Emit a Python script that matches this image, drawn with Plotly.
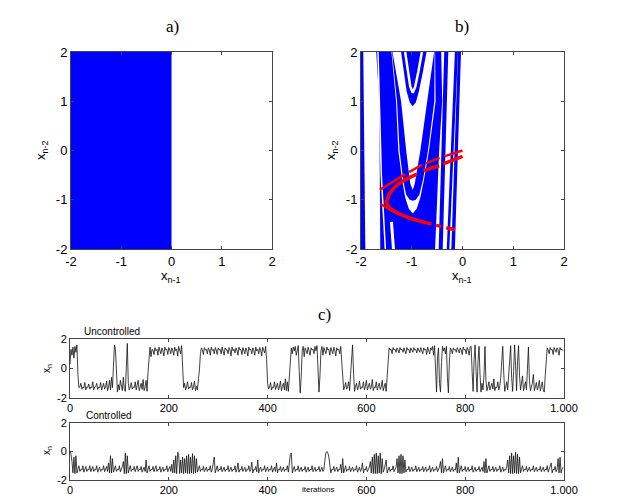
import numpy as np
import plotly.graph_objects as go

BLUE = "#0000ff"
RED = "#ff0000"

# ---- panel a: basin (left half blue)
a_basin_x = [-2, 0, 0, -2]
a_basin_y = [-2, -2, 2, 2]

# ---- panel b: basin pieces (blue / white layers, painted in order)
b_edge_x = [-2, -1.955, -1.915, -2]
b_edge_y = [2, 2, -2, -2]

b_main_x = [-1.70, -0.42, -0.40, -0.46, -0.54, -1.62, -1.64]
b_main_y = [2, 2, 1, 0, -2, -2, 1]

# white U (outer, vertex -1.28)
b_c_x = [-1.40, -1.31, -1.265, -1.19, -1.13, -1.06, -0.98, -0.90, -0.83, -0.76, -0.66, -0.53, -0.54]
b_c_y = [2.0, 1.0, 0.0, -0.6, -0.95, -1.18, -1.28, -1.18, -0.95, -0.6, 0.0, 1.0, 2.0]
# blue U band (vertex -1.02)
b_d_x = [-1.39, -1.29, -1.24, -1.17, -1.11, -1.04, -0.98, -0.92, -0.85, -0.78, -0.68, -0.555, -0.55]
b_d_y = [2.0, 1.0, 0.0, -0.6, -0.9, -1.0, -1.02, -1.0, -0.9, -0.6, 0.0, 1.0, 2.0]
# white U (vertex -0.80)
b_a_x = [-1.38, -1.21, -1.11, -1.03, -0.98, -0.94, -0.83, -0.69, -0.56]
b_a_y = [2.0, 1.0, 0.0, -0.67, -0.80, -0.67, 0.0, 1.0, 2.0]
# blue U (vertex 0.90)
b_b_x = [-1.21, -1.16, -1.10, -1.04, -0.98, -0.92, -0.86, -0.78, -0.71]
b_b_y = [2.0, 1.6, 1.2, 0.98, 0.90, 0.98, 1.2, 1.6, 2.0]
# thin white lines
b_w1_x = [-1.13, -1.08, -1.03, -0.98, -0.93, -0.87, -0.80]
b_w1_y = [2.0, 1.6, 1.3, 1.17, 1.3, 1.6, 2.0]
b_w3_x = [-1.665, -1.60, -1.52]
b_w3_y = [2.0, -0.5, -2.0]
b_w4_x = [-1.40, -1.36]
b_w4_y = [-1.45, -2.0]

# right-hand stripes
b_s2_x = [-0.36, -0.28, -0.39, -0.47]
b_s2_y = [2, 2, -2, -2]
b_s3_x = [-0.15, -0.09, -0.26, -0.31]
b_s3_y = [2, 2, -2, -2]
b_s4_x = [-0.09, -0.03, -0.15, -0.22]
b_s4_y = [2, 2, -2, -2]

# red attractor
r_out_x = [-1.63, -1.50, -1.36, -1.24, -1.13, None, -1.05, -0.92, -0.80, None,
           -0.72, -0.58, -0.45, None, -0.36, -0.18, 0.0]
r_out_y = [-0.80, -0.71, -0.63, -0.55, -0.48, None, -0.44, -0.36, -0.29, None,
           -0.26, -0.20, -0.15, None, -0.12, -0.06, 0.0]
r_in_x = [0.0, -0.2, -0.38, None, -0.46, -0.62, -0.77, None, -0.90, -1.02, -1.13, -1.25,
          -1.36, -1.44, -1.48, -1.50, -1.48, -1.43, -1.33, -1.20, -1.05, -0.90, -0.75,
          -0.61, None, -0.52, -0.42, None, -0.32, -0.15]
r_in_y = [-0.12, -0.20, -0.27, None, -0.31, -0.36, -0.41, None, -0.48, -0.53, -0.59, -0.67,
          -0.77, -0.88, -0.97, -1.04, -1.10, -1.17, -1.24, -1.31, -1.37, -1.42, -1.46,
          -1.49, None, -1.52, -1.54, None, -1.57, -1.61]
r_low_x = [-1.62, -1.52, -1.40, -1.25, -1.10, -0.95, -0.80, -0.66]
r_low_y = [-1.08, -1.15, -1.22, -1.29, -1.35, -1.40, -1.44, -1.48]

# ---- panel c: time series, every 2nd iteration
iters = np.arange(0, 1000, 2)
uncontrolled = [
    0.3, 1.3, 0.9, 1.45, 0.7, 1.5, 1.1, 1.6, -0.4, -1.3,
    -1.25, -1.0, -1.4, -1.25, -1.3, -0.95, -1.45, -1.25, -1.28, -1.05,
    -1.4, -1.25, -1.3, -0.9, -1.45, -1.25, -1.22, -1.0, -1.42, -1.25,
    -1.3, -0.95, -1.45, -1.25, -1.0, -1.4, -1.25, -0.85, -1.5, -1.25,
    -0.8, -1.45, -0.6, -1.3, 0.2, 1.6, 1.3, -0.5, -1.6, -1.1,
    -1.45, -0.8, -1.3, -1.5, -0.6, -1.4, -1.55, 0.3, 1.7, -1.0,
    -1.45, -1.25, -0.95, -1.4, -1.25, -1.3, -0.9, -1.45, -1.2, -0.8,
    -1.5, -1.25, -1.0, -1.42, -0.75, -1.5, -1.25, -0.8, -1.55, -0.2,
    1.0, 1.45, 0.8, 1.3, 1.25, 0.95, 1.42, 1.2, 1.3, 0.9,
    1.45, 1.25, 1.0, 1.4, 1.22, 0.85, 1.45, 1.25, 1.3, 0.95,
    1.42, 1.25, 1.0, 1.4, 1.25, 0.9, 1.45, 1.2, 1.3, 0.85,
    1.5, 1.25, 1.0, 1.55, 0.2, -1.3, -1.0, -1.45, -1.25, -0.9,
    -1.4, -1.25, -1.3, -0.95, -1.45, -1.25, -0.85, -1.5, -1.2, -1.45,
    -0.7, -0.1, 1.0, 1.4, 1.25, 0.95, 1.42, 1.25, 1.3, 1.0,
    1.4, 1.25, 0.9, 1.45, 1.22, 1.3, 1.0, 1.42, 1.25, 0.95,
    1.4, 1.25, 1.3, 1.0, 1.45, 1.25, 0.9, 1.4, 1.25, 1.28,
    1.0, 1.42, 1.25, 0.85, 1.45, 1.2, 1.3, 1.05, 1.4, 1.25,
    0.9, 1.45, 1.25, 1.3, 0.95, 1.42, 1.25, 1.0, 1.4, 1.22,
    0.85, 1.45, 1.25, 1.3, 1.0, 1.4, 1.25, 0.9, 1.45, 1.2,
    1.3, 1.0, 1.42, 1.25, 0.85, 1.45, 1.25, 1.05, 1.5, 0.6,
    -1.0, -1.4, -1.25, -0.95, -1.45, -1.25, -1.3, -0.9, -1.42, -1.25,
    -1.0, -1.45, -1.25, -0.85, -1.5, -1.2, -1.0, -1.45, -0.7, -1.5,
    -0.9, -1.55, -0.3, 0.9, 1.4, 1.0, 1.45, 1.2, 1.5, 0.9,
    1.35, 1.55, -0.2, -1.65, -0.6, 1.2, 1.5, 0.8, 1.4, 1.25,
    1.0, 1.45, 1.2, 0.9, 1.4, 1.25, 1.3, 1.0, 1.5, 1.2,
    1.55, 0.0, -1.6, -0.5, 1.2, 1.5, 0.9, 1.42, 1.25, 1.0,
    1.45, 1.25, 1.3, 0.9, 1.42, 1.2, 1.0, 1.45, 1.25, 0.85,
    1.4, 1.25, 1.3, 1.0, 1.5, 0.5, -1.0, -1.45, -1.25, -0.95,
    -1.4, -1.25, -0.9, -1.5, -0.4, 1.0, 1.6, -0.3, -1.55, -1.2,
    -1.0, -1.45, -1.25, -0.85, -1.4, -1.25, -1.3, -0.9, -1.45, -1.2,
    -0.8, -1.45, -1.25, -1.0, -1.4, -1.25, -0.75, -1.5, -1.25, -1.3,
    -0.9, -1.45, -1.2, -1.0, -1.42, -1.25, -0.8, -1.5, -1.25, -1.0,
    -1.55, -0.4, 0.8, 1.4, 1.25, 1.3, 1.0, 1.42, 1.25, 1.3,
    1.1, 1.4, 1.25, 1.05, 1.42, 1.25, 1.3, 1.1, 1.4, 1.25,
    1.0, 1.42, 1.25, 1.3, 1.05, 1.4, 1.25, 1.1, 1.42, 1.25,
    1.3, 1.05, 1.4, 1.25, 1.1, 1.42, 1.25, 1.0, 1.4, 1.25,
    1.3, 0.95, 1.45, 1.25, 1.0, 1.4, 1.25, 1.5, 0.9, 1.55,
    -0.5, -1.6, 0.8, 1.4, -1.0, -1.6, 0.4, 1.5, 1.2, 1.4,
    1.0, 1.5, -0.6, -1.65, 0.5, 1.4, 1.25, 1.0, 1.4, 1.25,
    1.3, 1.1, 1.42, 1.25, 1.05, 1.4, 1.25, 0.95, 1.45, 1.25,
    1.3, 1.0, 1.42, 1.25, 0.9, 1.45, 1.5, -0.2, -1.55, 0.6,
    1.6, -0.2, -1.6, 0.5, 1.5, -0.4, -1.6, -1.0, -1.45, -0.5,
    1.5, -0.8, -1.5, -1.25, -0.9, -1.45, -1.25, -1.0, -1.4, -0.7,
    -1.5, -1.25, -1.3, -0.9, -1.45, -1.2, -0.6, 0.5, 1.5, -0.3,
    -1.55, -1.25, -0.9, -1.45, -0.4, 1.2, 1.55, -0.6, -1.55, -0.2,
    1.6, 0.2, -1.5, 0.5, 1.55, -0.5, -1.45, -1.0, -0.5, -1.5,
    -1.25, -0.9, -1.45, 0.2, 1.45, -0.8, -1.5, -1.25, -1.0, -0.4,
    -1.5, -1.25, -0.95, -1.45, -1.25, -0.8, -1.5, -1.25, -0.9, -1.45,
    -1.6, -0.5, 0.9, 1.4, 1.25, 1.0, 1.42, 1.25, 1.3, 0.95,
    1.42, 1.25, 1.1, 1.4, 1.25, 0.9, 1.42, 1.25, 1.3, 1.2,
]
controlled = [
    0.05, -0.2, -0.7, -1.5, -0.4, -1.55, -0.3, -1.5, -1.25, -1.0,
    -1.4, -1.25, -1.3, -1.0, -1.45, -1.25, -1.05, -1.4, -1.25, -1.3,
    -1.0, -1.42, -1.25, -1.05, -1.4, -1.25, -1.3, -1.0, -1.45, -1.25,
    -1.1, -1.4, -1.25, -1.3, -1.0, -1.42, -1.25, -1.05, -1.4, -0.8,
    -1.5, -0.3, -1.5, -0.5, -1.45, -1.25, -1.0, -1.4, -1.25, -1.3,
    -1.0, -1.42, -1.25, -1.05, -0.7, -1.55, -0.1, -1.55, -0.3, -1.5,
    -1.25, -1.0, -1.4, -1.25, -1.3, -1.05, -1.42, -1.25, -1.0, -1.4,
    -1.25, -1.3, -1.05, -1.45, -1.25, -1.1, -1.4, -0.6, -1.5, -1.25,
    -1.0, -1.4, -1.25, -1.3, -1.05, -1.42, -1.25, -1.0, -1.4, -1.25,
    -1.3, -1.05, -1.45, -1.25, -1.1, -1.4, -1.25, -1.3, -1.0, -1.42,
    -1.25, -1.05, -1.4, -0.9, -1.5, -0.6, -1.5, -0.3, -1.55, -0.05,
    -0.2, -1.55, -0.6, -1.5, -0.4, -1.55, -0.5, -1.5, -0.3, -1.55,
    -0.2, -1.55, -0.4, -1.5, -0.15, -1.55, -0.3, -1.5, -0.5, -1.45,
    -1.25, -1.0, -1.4, -1.25, -1.3, -1.05, -1.42, -1.25, -1.1, -1.4,
    -1.25, -1.3, -1.0, -1.45, -1.25, -0.8, -0.4, -1.5, -1.25, -1.0,
    -1.4, -1.25, -1.3, -1.05, -1.42, -1.25, -1.1, -1.4, -1.25, -1.3,
    -1.0, -1.42, -1.25, -1.1, -1.4, -1.25, -1.3, -1.0, -1.45, -1.25,
    -0.8, -1.45, -1.25, -1.3, -1.05, -1.4, -1.25, -1.1, -1.42, -1.25,
    -1.3, -1.0, -1.4, -1.25, -0.75, -1.5, -1.25, -1.3, -1.05, -1.42,
    -0.6, -1.5, -1.25, -1.1, -1.4, -1.25, -1.3, -1.0, -1.42, -1.25,
    -1.1, -1.4, -1.25, -1.3, -1.0, -1.45, -1.25, -1.1, -1.4, -0.8,
    -1.5, -1.25, -1.3, -1.05, -1.42, -1.25, -1.1, -1.4, -1.25, -1.3,
    -1.0, -1.45, -0.7, -0.2, -0.1, -1.5, -1.25, -1.05, -1.4, -1.25,
    -1.3, -1.0, -1.42, -1.25, -1.1, -1.4, -1.25, -1.3, -1.05, -1.45,
    -1.25, -1.1, -1.4, -1.25, -1.3, -1.0, -1.42, -1.25, -1.1, -1.4,
    -1.25, -1.3, -1.05, -1.42, -1.25, -1.1, -1.4, -1.25, -0.6, -0.1,
    0.0, -0.1, -0.4, -1.2, -1.5, -1.25, -1.3, -1.05, -1.4, -1.25,
    -1.1, -1.42, -1.25, -1.3, -0.9, -1.5, -0.5, -1.5, -1.25, -1.0,
    -1.4, -1.25, -1.3, -1.05, -1.42, -1.25, -1.1, -1.4, -1.25, -1.3,
    -1.0, -1.45, -1.25, -1.1, -1.4, -1.25, -0.8, -1.5, -1.25, -1.3,
    -1.05, -1.42, -1.25, -1.1, -0.7, -1.5, -0.4, -1.55, -0.2, -1.55,
    -0.1, -1.55, -0.3, -1.5, -0.1, -1.55, -0.5, -1.45, -1.25, -1.0,
    -0.6, -1.5, -1.25, -1.1, -1.4, -1.25, -1.3, -1.0, -1.42, -1.25,
    -1.1, -0.5, -1.5, -0.3, -1.55, -0.2, -1.55, -0.3, -1.5, -0.6,
    -1.45, -1.25, -1.3, -1.05, -1.42, -1.25, -1.1, -1.4, -1.25, -1.3,
    -1.0, -1.42, -1.25, -1.1, -1.4, -1.25, -1.3, -1.05, -1.42, -1.25,
    -1.1, -1.4, -1.25, -1.3, -1.0, -1.45, -1.25, -1.1, -1.4, -1.25,
    -1.3, -1.05, -1.42, -1.25, -1.1, -0.7, -1.5, -0.5, -1.5, -1.25,
    -1.0, -1.4, -1.25, -1.3, -1.05, -1.42, -1.25, -1.1, -1.4, -1.25,
    -1.3, -0.8, -1.5, -0.4, -1.5, -1.25, -1.0, -1.4, -1.25, -1.3,
    -1.05, -1.42, -1.25, -1.1, -1.4, -1.25, -1.3, -1.0, -1.45, -1.25,
    -1.1, -1.4, -1.25, -1.3, -1.05, -1.42, -1.25, -1.1, -1.4, -0.7,
    -1.5, -0.5, -1.5, -1.25, -1.0, -1.4, -1.25, -1.3, -1.05, -1.42,
    -1.25, -1.1, -1.4, -1.25, -1.3, -1.0, -1.45, -1.25, -1.1, -1.4,
    -1.25, -1.3, -1.05, -0.6, -1.5, -0.3, -1.55, -0.1, -1.55, -0.3,
    -1.5, -0.05, -1.55, -0.2, -1.55, -0.4, -1.5, -1.25, -1.0, -1.4,
    -1.25, -1.3, -1.05, -1.42, -1.25, -1.1, -1.4, -1.25, -1.3, -1.0,
    -1.42, -1.25, -1.1, -1.4, -1.25, -1.3, -1.05, -1.42, -1.25, -1.1,
    -1.4, -1.25, -1.3, -1.0, -1.45, -1.25, -1.1, -0.8, -1.5, -1.25,
    -1.3, -1.05, -1.42, -1.25, -0.5, -1.5, -0.4, -1.5, -1.25, -1.1,
]

box_ticks = [-2, -1, 0, 1, 2]
box_text = ["-2", "-1", "0", "1", "2"]
ts_ticks = [0, 200, 400, 600, 800, 1000]
ts_text = ["0", "200", "400", "600", "800", "1.000"]

# page body keeps an 8px margin, so the figure is sized to fit inside it
OFF = 8
W, H = 631 - 2 * OFF, 504 - 2 * OFF
fig = go.Figure()


def poly(x, y, color, ax):
    fig.add_trace(go.Scatter(x=x, y=y, fill="toself", fillcolor=color, mode="lines",
                             line=dict(width=0, color=color), xaxis="x" + ax, yaxis="y" + ax,
                             hoverinfo="skip", showlegend=False))


def curve(x, y, color, width, ax):
    fig.add_trace(go.Scatter(x=x, y=y, mode="lines", line=dict(color=color, width=width),
                             xaxis="x" + ax, yaxis="y" + ax, hoverinfo="skip",
                             showlegend=False, connectgaps=False))


# panel a
poly(a_basin_x, a_basin_y, BLUE, "")

# panel b
poly(b_edge_x, b_edge_y, BLUE, "2")
poly(b_main_x, b_main_y, BLUE, "2")
poly(b_c_x, b_c_y, "white", "2")
poly(b_d_x, b_d_y, BLUE, "2")
poly(b_a_x, b_a_y, "white", "2")
poly(b_b_x, b_b_y, BLUE, "2")
curve(b_w1_x, b_w1_y, "white", 2.5, "2")
curve(b_w3_x, b_w3_y, "white", 1.5, "2")
curve(b_w4_x, b_w4_y, "white", 3, "2")
poly(b_s2_x, b_s2_y, BLUE, "2")
poly(b_s3_x, b_s3_y, BLUE, "2")
poly(b_s4_x, b_s4_y, BLUE, "2")
curve(r_out_x, r_out_y, RED, 2.5, "2")
curve(r_low_x, r_low_y, RED, 2.5, "2")
curve(r_in_x, r_in_y, RED, 3.5, "2")

# panel c
curve(iters, uncontrolled, "#111111", 0.8, "3")
curve(iters, controlled, "#111111", 0.8, "4")

sans = "Liberation Sans, Arial, sans-serif"
tick_font = dict(family=sans, size=13, color="black")
small_font = dict(family=sans, size=11, color="black")


def axis(dom, anchor, rng, vals, text, font):
    return dict(domain=dom, anchor=anchor, range=rng, tickvals=vals, ticktext=text,
                ticks="inside", ticklen=3, tickcolor="#444", showline=True, mirror="ticks",
                linecolor="#444", linewidth=1, showgrid=False, zeroline=False,
                automargin=False, tickfont=font, fixedrange=True)


def px(v):
    return (v - OFF) / W


def py(v):
    return 1 - (v - OFF) / H


fig.update_layout(
    template="none",
    width=W, height=H, margin=dict(l=0, r=0, t=0, b=0),
    font=dict(family=sans, color="black"),
    paper_bgcolor="white", plot_bgcolor="white", showlegend=False,
    xaxis=axis([px(71), px(272)], "y", [-2, 2], box_ticks, box_text, tick_font),
    yaxis=axis([py(249), py(52)], "x", [-2, 2], box_ticks, box_text, tick_font),
    xaxis2=axis([px(361), px(564)], "y2", [-2, 2], box_ticks, box_text, tick_font),
    yaxis2=axis([py(249), py(52)], "x2", [-2, 2], box_ticks, box_text, tick_font),
    xaxis3=axis([px(70), px(564)], "y3", [0, 1000], ts_ticks, ts_text, small_font),
    yaxis3=axis([py(398), py(339)], "x3", [-2, 2], [-2, 0, 2], ["-2", "0", "2"], small_font),
    xaxis4=axis([px(70), px(564)], "y4", [0, 1000], ts_ticks, ts_text, small_font),
    yaxis4=axis([py(480), py(423)], "x4", [-2, 2], [-2, 0, 2], ["-2", "0", "2"], small_font),
)

serif = dict(family="Liberation Serif, DejaVu Serif, serif", size=17, color="black")
notes = [
    dict(text="a)", x=px(172), y=py(27), font=serif),
    dict(text="b)", x=px(462), y=py(27), font=serif),
    dict(text="c)", x=px(324), y=py(314), font=serif),
    dict(text="x<sub>n-1</sub>", x=px(171), y=py(276), font=dict(family=sans, size=13, color="black")),
    dict(text="x<sub>n-2</sub>", x=px(42), y=py(150), textangle=-90,
         font=dict(family=sans, size=13, color="black")),
    dict(text="x<sub>n-1</sub>", x=px(462), y=py(276), font=dict(family=sans, size=13, color="black")),
    dict(text="x<sub>n-2</sub>", x=px(332), y=py(150), textangle=-90,
         font=dict(family=sans, size=13, color="black")),
    dict(text="x<sub>n</sub>", x=px(47), y=py(369), textangle=-90,
         font=dict(family=sans, size=10, color="black")),
    dict(text="x<sub>n</sub>", x=px(47), y=py(451), textangle=-90,
         font=dict(family=sans, size=10, color="black")),
    dict(text="Uncontrolled", x=px(82), y=py(339), xanchor="left", yanchor="bottom",
         font=dict(family=sans, size=10, color="black")),
    dict(text="Controlled", x=px(84), y=py(423), xanchor="left", yanchor="bottom",
         font=dict(family=sans, size=10, color="black")),
    dict(text="iterations", x=px(318), y=py(495.5), yanchor="bottom",
         font=dict(family=sans, size=8, color="black")),
]
for n in notes:
    n.setdefault("xanchor", "center")
    n.setdefault("yanchor", "middle")
    fig.add_annotation(xref="paper", yref="paper", showarrow=False, **n)

fig.write_html("out.html")
